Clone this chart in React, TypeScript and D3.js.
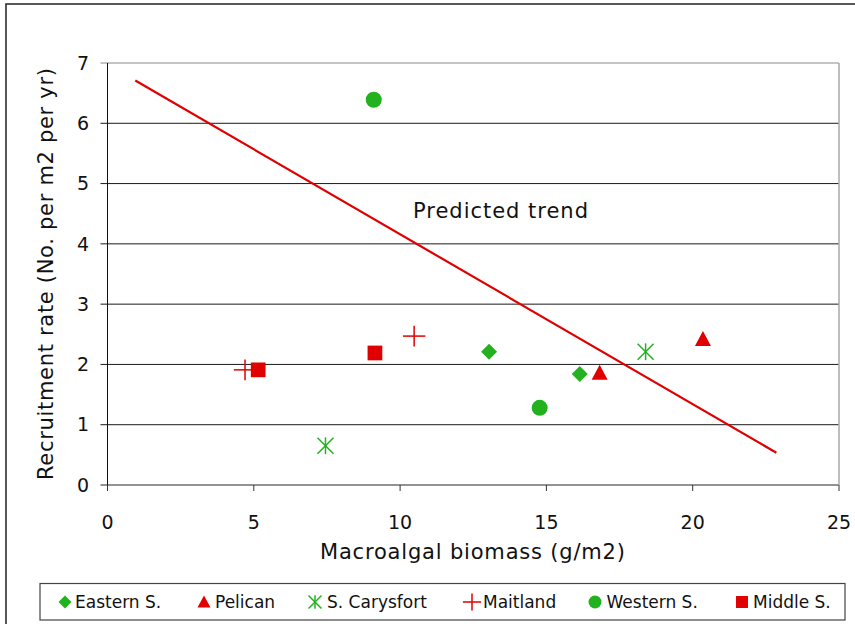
import React from "react";
import * as d3 from "d3";

const W = 855, H = 624;
const xTicks = [0, 5, 10, 15, 20, 25];
const yTicks = [0, 1, 2, 3, 4, 5, 6, 7];

const easternX = [13.04, 16.14];
const easternY = [2.21, 1.84];
const pelicanX = [16.82, 20.35];
const pelicanY = [1.86, 2.42];
const carysfortX = [7.45, 18.39];
const carysfortY = [0.65, 2.21];
const maitlandX = [4.7, 10.48];
const maitlandY = [1.91, 2.47];
const westernX = [9.1, 14.77];
const westernY = [6.39, 1.28];
const middleX = [5.15, 9.14];
const middleY = [1.91, 2.19];
const trendX = [0.95, 22.86];
const trendY = [6.71, 0.535];

const GREEN = "#22b21f";
const RED = "#e00000";
const FONT = "'DejaVu Sans', Verdana, sans-serif";

type Kind = "diamond" | "triangle" | "asterisk" | "plus" | "circle" | "square";

const series: { name: string; kind: Kind; color: string; xs: number[]; ys: number[] }[] = [
  { name: "Eastern S.", kind: "diamond", color: GREEN, xs: easternX, ys: easternY },
  { name: "Pelican", kind: "triangle", color: RED, xs: pelicanX, ys: pelicanY },
  { name: "S. Carysfort", kind: "asterisk", color: GREEN, xs: carysfortX, ys: carysfortY },
  { name: "Maitland", kind: "plus", color: RED, xs: maitlandX, ys: maitlandY },
  { name: "Western S.", kind: "circle", color: GREEN, xs: westernX, ys: westernY },
  { name: "Middle S.", kind: "square", color: RED, xs: middleX, ys: middleY },
];

function Marker({ kind, color, x, y, s }: { kind: Kind; color: string; x: number; y: number; s: number }) {
  const h = s / 2;
  switch (kind) {
    case "diamond":
      return <path d={`M${x},${y - h}L${x + h},${y}L${x},${y + h}L${x - h},${y}Z`} fill={color} />;
    case "triangle":
      return <path d={`M${x},${y - h}L${x + h},${y + h * 0.85}L${x - h},${y + h * 0.85}Z`} fill={color} />;
    case "square":
      return <rect x={x - h * 0.92} y={y - h * 0.92} width={h * 1.84} height={h * 1.84} fill={color} />;
    case "circle":
      return <circle cx={x} cy={y} r={h} fill={color} />;
    case "plus":
      return (
        <g stroke={color} strokeWidth={1.5}>
          <line x1={x - h * 1.4} x2={x + h * 1.4} y1={y} y2={y} />
          <line x1={x} x2={x} y1={y - h * 1.3} y2={y + h * 1.3} />
        </g>
      );
    case "asterisk":
      return (
        <g stroke={color} strokeWidth={1.5}>
          <line x1={x - h} x2={x + h} y1={y - h} y2={y + h} />
          <line x1={x - h} x2={x + h} y1={y + h} y2={y - h} />
          <line x1={x} x2={x} y1={y - h * 1.05} y2={y + h * 1.05} />
        </g>
      );
  }
}

export default function App() {
  const x = d3.scaleLinear().domain([0, 25]).range([107.5, 839]);
  const y = d3.scaleLinear().domain([0, 7]).range([485, 63]);
  const trend = d3.line<number>().x((d, i) => x(trendX[i])).y((d, i) => y(trendY[i]));

  const legendItems = [
    { mx: 65, tx: 75 },
    { mx: 204, tx: 215 },
    { mx: 315, tx: 327 },
    { mx: 472, tx: 483 },
    { mx: 595, tx: 606.5 },
    { mx: 742, tx: 753 },
  ];

  return (
    <svg width={W} height={H} style={{ position: "absolute", left: 0, top: 0 }} fontFamily={FONT}>
      <rect x={0} y={0} width={W} height={H} fill="#fff" />
      <rect x={6} y={4} width={870} height={640} fill="none" stroke="#222" strokeWidth={1.5} />
      {yTicks.map((t) => (
        <line
          key={t}
          x1={x(0) - 7}
          x2={x(25)}
          y1={y(t)}
          y2={y(t)}
          stroke={t === 7 ? "#8a8a8a" : t === 0 ? "#6e6e6e" : "#1a1a1a"}
          strokeWidth={t === 0 ? 1.6 : 1}
        />
      ))}
      <line x1={x(25)} x2={x(25)} y1={y(7)} y2={y(0)} stroke="#a8a8a8" strokeWidth={1.5} />
      <line x1={x(0)} x2={x(0)} y1={y(7)} y2={y(0) + 6} stroke="#111" strokeWidth={1} />
      {xTicks.map((t) => (
        <line key={t} x1={x(t)} x2={x(t)} y1={y(0)} y2={y(0) + 6} stroke="#333" strokeWidth={1} />
      ))}
      {yTicks.map((t) => (
        <text key={t} x={89} y={y(t)} dy="0.35em" textAnchor="end" fontSize={19} fill="#111">
          {t}
        </text>
      ))}
      {xTicks.map((t) => (
        <text key={t} x={x(t)} y={522} dy="0.35em" textAnchor="middle" fontSize={19} fill="#111">
          {t}
        </text>
      ))}
      <text x={320} y={559} fontSize={21} fill="#111" textLength={305} lengthAdjust="spacing">
        Macroalgal biomass (g/m2)
      </text>
      <text
        transform={`translate(53,480) rotate(-90)`}
        fontSize={21}
        fill="#111"
        textLength={412}
        lengthAdjust="spacing"
      >
        Recruitment rate (No. per m2 per yr)
      </text>
      <path d={trend(trendX) || ""} stroke={RED} strokeWidth={2.2} fill="none" />
      <text x={413} y={218} fontSize={21} fill="#111" textLength={175} lengthAdjust="spacing">
        Predicted trend
      </text>
      {series.map((s) =>
        s.xs.map((v, i) => (
          <Marker key={s.name + i} kind={s.kind} color={s.color} x={x(v)} y={y(s.ys[i])} s={16} />
        ))
      )}
      <rect x={40} y={583.5} width={805} height={36.5} fill="none" stroke="#444" strokeWidth={1.2} />
      {series.map((s, i) => (
        <g key={s.name}>
          <Marker kind={s.kind} color={s.color} x={legendItems[i].mx} y={602} s={13} />
          <text x={legendItems[i].tx} y={602} dy="0.35em" fontSize={17} fill="#111">
            {s.name}
          </text>
        </g>
      ))}
    </svg>
  );
}
